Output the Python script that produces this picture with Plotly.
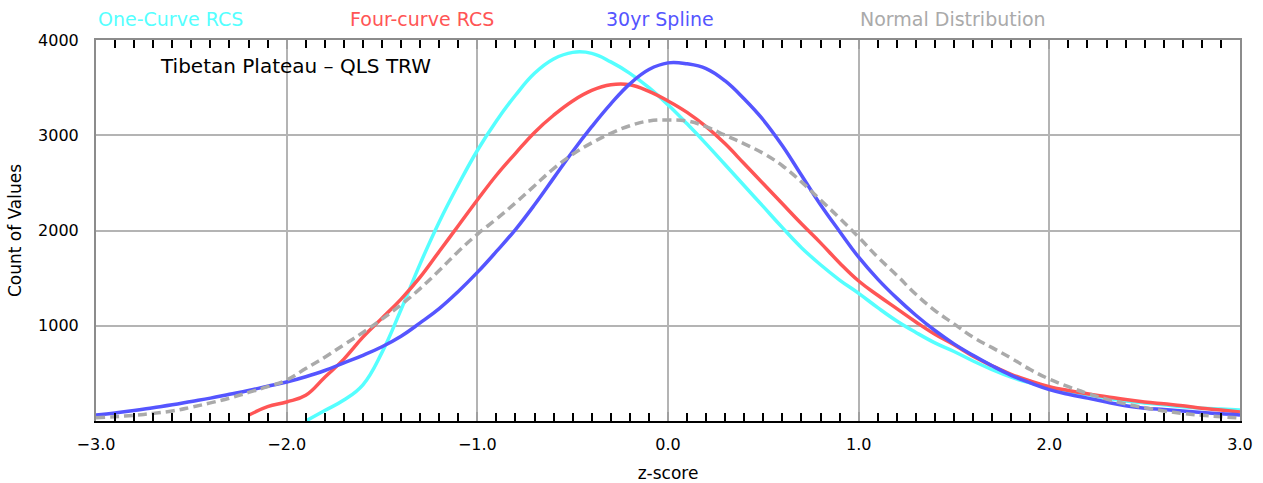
import plotly.graph_objects as go

# z-score grids
z_full = [round(-3.0 + 0.1 * i, 1) for i in range(61)]
z_cyan = [round(-1.9 + 0.1 * i, 1) for i in range(50)]
z_red = [round(-2.2 + 0.1 * i, 1) for i in range(53)]

one_curve_rcs = [0, 110, 220, 380, 720, 1170, 1650, 2090, 2480, 2840,
                 3150, 3420, 3650, 3800, 3870, 3860, 3770, 3650, 3500, 3320,
                 3120, 2910, 2690, 2470, 2250, 2030, 1820, 1640, 1480, 1340,
                 1190, 1050, 930, 820, 730, 630, 540, 460, 400, 355,
                 310, 275, 240, 210, 190, 170, 150, 135, 125, 115]

four_curve_rcs = [60, 150, 200, 270, 460, 650, 880, 1080, 1280, 1510,
                  1780, 2050, 2320, 2580, 2810, 3030, 3210, 3360, 3470, 3530,
                  3530, 3460, 3360, 3240, 3090, 2910, 2700, 2490, 2280, 2070,
                  1870, 1660, 1470, 1320, 1180, 1040, 910, 800, 680, 580,
                  490, 420, 360, 320, 285, 255, 225, 200, 180, 160,
                  135, 115, 95]

spline_30yr = [63, 85, 110, 140, 170, 205, 240, 280, 320, 365,
               410, 465, 530, 610, 690, 780, 890, 1030, 1180, 1360,
               1560, 1780, 2010, 2270, 2550, 2830, 3090, 3330, 3540, 3690,
               3760, 3750, 3700, 3570, 3380, 3160, 2890, 2580, 2270, 1990,
               1720, 1490, 1290, 1110, 950, 810, 690, 580, 480, 400,
               330, 280, 240, 200, 160, 135, 120, 105, 90, 75, 63]

normal_dist = [35, 45, 60, 80, 105, 145, 190, 240, 300, 360,
               430, 550, 670, 800, 930, 1070, 1220, 1390, 1580, 1780,
               1960, 2120, 2290, 2470, 2650, 2800, 2920, 3020, 3100, 3150,
               3160, 3150, 3090, 3000, 2910, 2810, 2680, 2510, 2320, 2130,
               1930, 1720, 1530, 1330, 1160, 1020, 880, 770, 660, 540,
               440, 360, 290, 230, 180, 140, 105, 80, 60, 45, 30]

series_names = ["One-Curve RCS", "Four-curve RCS", "30yr Spline", "Normal Distribution"]
series_colors = ["#55FFFF", "#FF5555", "#5555FF", "#AAAAAA"]
x_tick_vals = [-3, -2, -1, 0, 1, 2, 3]
x_tick_text = ["\u22123.0", "\u22122.0", "\u22121.0", "0.0", "1.0", "2.0", "3.0"]
y_tick_vals = [1000, 2000, 3000, 4000]
y_tick_text = ["1000", "2000", "3000", "4000"]

FONT = "DejaVu Sans"

fig = go.Figure()
for xs, ys, col, dash in [(z_cyan, one_curve_rcs, series_colors[0], "solid"),
                          (z_red, four_curve_rcs, series_colors[1], "solid"),
                          (z_full, spline_30yr, series_colors[2], "solid"),
                          (z_full, normal_dist, series_colors[3], "9px,5px")]:
    fig.add_trace(go.Scatter(x=xs, y=ys, mode="lines",
                             line=dict(color=col, width=3.5, dash=dash, shape="spline", smoothing=1.2),
                             showlegend=False, cliponaxis=True))

# invisible trace for top axis
fig.add_trace(go.Scatter(x=[-3, 3], y=[0, 0], xaxis="x2", mode="lines",
                         line=dict(width=0), showlegend=False, hoverinfo="skip"))

fig.update_layout(
    width=1263, height=483,
    margin=dict(l=96, r=23, t=40, b=62, autoexpand=False),
    paper_bgcolor="white", plot_bgcolor="white",
    font=dict(family=FONT, size=15, color="black"),
    xaxis=dict(range=[-3, 3], tickvals=x_tick_vals, ticktext=x_tick_text,
               showgrid=True, gridcolor="#B4B4B4", gridwidth=1.5,
               showline=True, linecolor="black", linewidth=2,
               ticks="inside", ticklen=9, tickwidth=2, tickcolor="#A0A0A0",
               minor=dict(dtick=0.1, tick0=0, ticks="inside", ticklen=8, tickwidth=1.5,
                          tickcolor="black", showgrid=False),
               tickfont=dict(size=16), ticklabelstandoff=8, zeroline=False, automargin=False,
               title=dict(text="z-score", font=dict(size=17), standoff=14)),
    xaxis2=dict(range=[-3, 3], overlaying="x", side="top", tickvals=x_tick_vals,
                showticklabels=False, showgrid=False, zeroline=False, automargin=False,
                showline=True, linecolor="#8C8C8C", linewidth=2,
                ticks="inside", ticklen=9, tickwidth=2, tickcolor="#A0A0A0",
                minor=dict(dtick=0.1, tick0=0, ticks="inside", ticklen=8, tickwidth=1.5,
                           tickcolor="black", showgrid=False)),
    yaxis=dict(range=[0, 4000], tickvals=y_tick_vals, ticktext=y_tick_text,
               showgrid=True, gridcolor="#B4B4B4", gridwidth=1.5,
               showline=True, linecolor="#8C8C8C", linewidth=2, mirror=True,
               ticks="", zeroline=False, tickfont=dict(size=16), ticklabelstandoff=12,
               automargin=False,
               title=dict(text="Count of Values", font=dict(size=17), standoff=12)),
)

# legend-like colored labels along the top
label_x = [0.0, 0.22, 0.444, 0.666]
for name, col, lx in zip(series_names, series_colors, label_x):
    fig.add_annotation(text=name, xref="paper", yref="paper", x=lx, y=1.0,
                       yshift=21, xanchor="left", yanchor="middle", showarrow=False,
                       font=dict(family=FONT, size=19, color=col))

fig.add_annotation(text="Tibetan Plateau \u2013 QLS TRW", xref="paper", yref="paper",
                   x=0.054, y=0.932, xanchor="left", yanchor="middle", showarrow=False,
                   font=dict(family=FONT, size=20, color="black"))

fig.write_html("out.html")
